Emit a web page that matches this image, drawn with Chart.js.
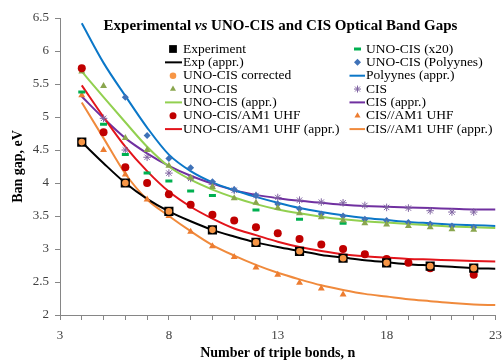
<!DOCTYPE html>
<html>
<head>
<meta charset="utf-8">
<script src="https://cdn.jsdelivr.net/npm/chart.js@4.4.1/dist/chart.umd.min.js"></script>
<style>
  html, body { margin: 0; padding: 0; background: #fff; }
  #wrap { width: 502px; height: 360px; }
</style>
</head>
<body>
<div id="wrap"><canvas id="gapChart" width="502" height="360"></canvas></div>
<script>
// ===== Band gap chart: values =====

const nFit = [4, 5, 6, 7, 8, 9, 10, 11, 12, 13, 14, 15, 16, 17, 18, 19, 20, 21, 22, 23];

const expN = [4, 6, 8, 10, 12, 14, 16, 18, 20, 22];
const expGap = [4.62, 4.0, 3.57, 3.29, 3.10, 2.965, 2.86, 2.79, 2.74, 2.71];
const corrGap = [4.62, 4.0, 3.57, 3.29, 3.10, 2.965, 2.86, 2.79, 2.74, 2.71];
const expFit = [4.62, 4.30, 4.0, 3.76, 3.57, 3.42, 3.29, 3.19, 3.10, 3.03, 2.97, 2.91, 2.87, 2.83, 2.80, 2.77, 2.75, 2.73, 2.71, 2.70];

const unoN = [4, 5, 6, 7, 8, 9, 10, 11, 12, 13, 14, 15, 16, 17, 18, 19, 20, 21, 22];
const unoGap = [5.69, 5.47, 4.68, 4.50, 4.26, 4.08, 3.94, 3.77, 3.70, 3.62, 3.54, 3.48, 3.43, 3.39, 3.37, 3.35, 3.33, 3.30, 3.29];
const unoFit = [5.69, 5.30, 4.92, 4.55, 4.25, 4.05, 3.90, 3.78, 3.68, 3.60, 3.54, 3.49, 3.45, 3.42, 3.40, 3.38, 3.36, 3.34, 3.33, 3.32];

const uhfN = [4, 5, 6, 7, 8, 9, 10, 11, 12, 13, 14, 15, 16, 17, 18, 19, 20, 22];
const uhfGap = [5.74, 4.77, 4.24, 4.0, 3.83, 3.67, 3.52, 3.43, 3.33, 3.24, 3.15, 3.07, 3.0, 2.92, 2.85, 2.79, 2.71, 2.61];
const uhfFit = [5.48, 5.0, 4.55, 4.18, 3.87, 3.64, 3.46, 3.31, 3.21, 3.11, 3.03, 2.97, 2.92, 2.89, 2.87, 2.85, 2.84, 2.83, 2.82, 2.81];

const x20N = [4, 5, 6, 7, 8, 9, 10, 12, 14, 16];
const x20Gap = [5.38, 4.89, 4.43, 4.15, 4.03, 3.88, 3.81, 3.59, 3.45, 3.39];

const polyN = [6, 7, 8, 9, 10, 11, 12, 13, 14, 15, 16, 17, 18, 19, 20, 21, 22];
const polyGap = [5.30, 4.72, 4.37, 4.23, 4.02, 3.90, 3.81, 3.68, 3.61, 3.53, 3.50, 3.45, 3.43, 3.40, 3.38, 3.35, 3.33];
const polyFit = [6.42, 5.82, 5.32, 4.84, 4.43, 4.18, 4.01, 3.89, 3.79, 3.70, 3.62, 3.56, 3.51, 3.47, 3.44, 3.41, 3.39, 3.37, 3.36, 3.35];

const cisN = [5, 6, 7, 8, 9, 10, 11, 12, 13, 14, 15, 16, 17, 18, 19, 20, 21, 22];
const cisGap = [4.98, 4.50, 4.39, 4.15, 4.07, 3.98, 3.89, 3.81, 3.78, 3.74, 3.71, 3.70, 3.66, 3.63, 3.62, 3.58, 3.56, 3.56];
const cisFit = [5.31, 4.98, 4.68, 4.45, 4.26, 4.11, 3.99, 3.89, 3.82, 3.77, 3.73, 3.70, 3.67, 3.65, 3.64, 3.63, 3.62, 3.61, 3.60, 3.60];

const cisUhfN = [4, 5, 6, 7, 8, 9, 10, 11, 12, 13, 14, 15, 16];
const cisUhfGap = [5.33, 4.50, 4.13, 3.75, 3.50, 3.26, 3.04, 2.88, 2.72, 2.61, 2.49, 2.40, 2.31];
const cisUhfFit = [5.22, 4.68, 4.14, 3.75, 3.50, 3.27, 3.06, 2.90, 2.76, 2.64, 2.54, 2.45, 2.38, 2.32, 2.28, 2.24, 2.21, 2.18, 2.16, 2.15];

const xTickLabels = [3, 8, 13, 18, 23];

const FONT = "'Liberation Serif', 'Times New Roman', serif";

function pts(xs, ys) {
  return xs.map((x, i) => ({ x, y: ys[i] }));
}

function markers(label, xs, ys, style, color, radius, order, extra = {}) {
  return Object.assign({
    label, data: pts(xs, ys), showLine: false,
    pointStyle: style, pointRadius: radius, pointHoverRadius: radius,
    pointBackgroundColor: color, pointBorderColor: color, pointBorderWidth: 0,
    backgroundColor: color, borderColor: color, order
  }, extra);
}

function fitLine(label, ys, color, order) {
  return {
    label, data: pts(nFit, ys), showLine: true, pointRadius: 0,
    borderColor: color, backgroundColor: color, borderWidth: 2,
    cubicInterpolationMode: "monotone", fill: false, order
  };
}

const datasets = [
  markers("Experiment", expN, expGap, "rect", "#000000", 6.5, 2),               // 0
  fitLine("Exp (appr.)", expFit, "#000000", 20),                                 // 1
  markers("UNO-CIS corrected", expN, corrGap, "circle", "#F79646", 3.3, 1),      // 2
  markers("UNO-CIS", unoN, unoGap, "triangle", "#8AA64E", 4, 5),                 // 3
  fitLine("UNO-CIS (appr.)", unoFit, "#92D050", 21),                             // 4
  markers("UNO-CIS/AM1 UHF", uhfN, uhfGap, "circle", "#C00000", 4, 3),           // 5
  fitLine("UNO-CIS/AM1 UHF (appr.)", uhfFit, "#E3141B", 22),                     // 6
  markers("UNO-CIS (x20)", x20N, x20Gap, "line", "#00B050", 3.5, 6,
          { pointBorderWidth: 3 }),                                              // 7
  markers("UNO-CIS (Polyynes)", polyN, polyGap, "rectRot", "#3F72B8", 3.5, 7),  // 8
  fitLine("Polyynes (appr.)", polyFit, "#0B77C8", 23),                           // 9
  markers("CIS", cisN, cisGap, "star", "#8064A2", 3.8, 8,
          { pointBorderWidth: 1 }),                                              // 10
  fitLine("CIS (appr.)", cisFit, "#7030A0", 24),                                 // 11
  markers("CIS//AM1 UHF", cisUhfN, cisUhfGap, "triangle", "#ED7D31", 4, 9),      // 12
  fitLine("CIS//AM1 UHF (appr.)", cisUhfFit, "#F08A3C", 25)                      // 13
];

// legend: two columns inside the plot, drawn by hand
const legendLeft = [0, 1, 2, 3, 4, 5, 6];
const legendRight = [7, 8, 9, 10, 11, 12, 13];

const titleAndLegend = {
  id: "titleAndLegend",
  afterDraw(chart) {
    const ctx = chart.ctx;
    ctx.save();

    // title with italic "vs"
    const parts = [
      ["Experimental ", "bold"],
      ["vs", "italic bold"],
      [" UNO-CIS and CIS Optical Band Gaps", "bold"]
    ];
    ctx.fillStyle = "#000";
    ctx.textBaseline = "alphabetic";
    ctx.textAlign = "left";
    let total = 0;
    parts.forEach(([t, s]) => { ctx.font = `${s} 15px ${FONT}`; total += ctx.measureText(t).width; });
    let tx = 280.5 - total / 2;
    parts.forEach(([t, s]) => {
      ctx.font = `${s} 15px ${FONT}`;
      ctx.fillText(t, tx, 30);
      tx += ctx.measureText(t).width;
    });

    // legend
    ctx.font = `13.5px ${FONT}`;
    ctx.textBaseline = "middle";
    const drawCol = (list, mx, textX) => {
      list.forEach((idx, row) => {
        const ds = chart.data.datasets[idx];
        const y = 49 + row * 13.35;
        if (ds.showLine) {
          ctx.strokeStyle = ds.borderColor;
          ctx.lineWidth = 2;
          ctx.beginPath();
          ctx.moveTo(mx - 8, y);
          ctx.lineTo(textX, y);
          ctx.stroke();
        } else {
          ctx.fillStyle = ds.pointBackgroundColor;
          ctx.strokeStyle = ds.pointBorderColor;
          ctx.lineWidth = ds.pointBorderWidth || 0;
          const r = ds.pointStyle === "rect" ? 5.5 : Math.min(ds.pointRadius, 3.5);
          Chart.helpers.drawPoint(ctx, {
            pointStyle: ds.pointStyle, rotation: 0, radius: r,
            borderWidth: ds.pointBorderWidth || 0
          }, mx, y);
        }
        ctx.fillStyle = "#000";
        ctx.fillText(ds.label, textX + 1, y);
      });
    };
    drawCol(legendLeft, 173, 182);
    drawCol(legendRight, 357.5, 365);

    ctx.restore();
  }
};

const ctx = document.getElementById("gapChart");
const chart = new Chart(ctx, {
  type: "line",
  data: { datasets },
  options: {
    responsive: false,
    devicePixelRatio: 1,
    animation: false,
    layout: { padding: { top: 18, right: 4, left: 0, bottom: 0 } },
    plugins: {
      legend: { display: false },
      tooltip: { enabled: false },
      title: { display: false }
    },
    scales: {
      x: {
        type: "linear", min: 3, max: 23,
        afterFit: (s) => { s.height = 45; s.paddingLeft = 0; s.paddingRight = 0; },
        border: { color: "#868686", width: 1 },
        grid: { drawOnChartArea: false, drawTicks: true, tickLength: 5, color: "#868686" },
        ticks: {
          stepSize: 1, autoSkip: false, maxRotation: 0, padding: 8,
          color: "#404040", font: { family: FONT, size: 13 },
          callback: (v) => xTickLabels.includes(v) ? String(v) : ""
        },
        title: {
          display: true, text: "Number of triple bonds, n", color: "#000",
          font: { family: FONT, size: 14, weight: "bold", lineHeight: 1 },
          padding: { top: 0, bottom: 0 }
        }
      },
      y: {
        type: "linear", min: 2, max: 6.5,
        afterFit: (s) => { s.width = 60; s.paddingTop = 0; s.paddingBottom = 0; },
        border: { color: "#868686", width: 1 },
        grid: { drawOnChartArea: false, drawTicks: true, tickLength: 5, color: "#868686" },
        ticks: {
          stepSize: 0.5, padding: 6,
          color: "#404040", font: { family: FONT, size: 13 },
          callback: (v) => String(v)
        },
        title: {
          display: true, text: "Ban gap, eV", color: "#000",
          font: { family: FONT, size: 14, weight: "bold", lineHeight: 1 },
          padding: { top: 11, bottom: 0 }
        }
      }
    }
  },
  plugins: [titleAndLegend]
});
</script>
</body>
</html>
